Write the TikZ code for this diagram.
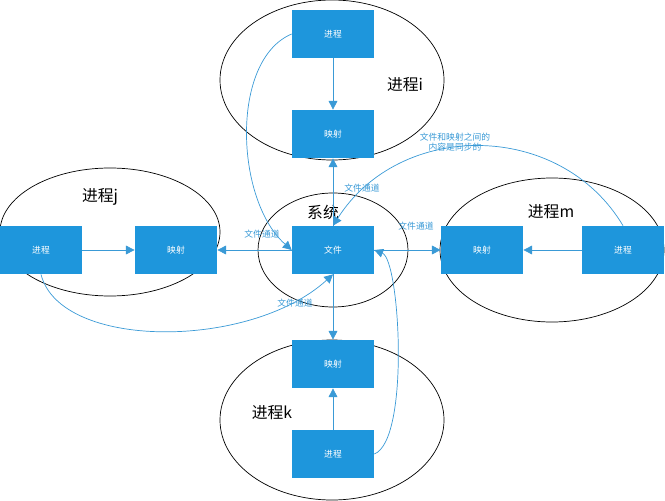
\documentclass[tikz,border=0pt]{standalone}
\usepackage{fontspec}
\setmainfont{Noto Sans CJK SC}
\usetikzlibrary{arrows.meta}
\definecolor{boxblue}{HTML}{1E96DC}
\definecolor{lineblue}{HTML}{3A9AD6}
\tikzset{
	procbox/.style={fill=boxblue, minimum width=1.64cm, minimum height=0.96cm, inner sep=0pt, text=white, font=\fontsize{5}{6}\selectfont},
	flow/.style={draw=lineblue, -{Triangle[length=5pt,width=5pt]}},
	chan/.style={text=lineblue, font=\fontsize{5}{6}\selectfont, inner sep=1pt},
	zone/.style={draw=black, thin},
	title/.style={font=\fontsize{9}{10}\selectfont}
}
\begin{document}
\begin{tikzpicture}[x=0.02cm,y=-0.02cm]
		\useasboundingbox (0,0) rectangle (665,500);
		
		%zones
		\draw[zone] (332,80) ellipse [x radius=112, y radius=80];
		\draw[zone] (110,232) ellipse [x radius=110, y radius=64];
		\draw[zone] (333,250) ellipse [x radius=75, y radius=57];
		\draw[zone] (552,250) ellipse [x radius=112, y radius=72];
		\draw[zone] (332,420) ellipse [x radius=112, y radius=80];
		
		\node[title] (ti) at (405,85) {进程i};
		\node[title] (tj) at (100,197) {进程j};
		\node[title] (ts) at (323,212) {系统};
		\node[title] (tm) at (551,212) {进程m};
		\node[title] (tk) at (272,413) {进程k};
		
		%blocks
		\node[procbox] (file) at (333,250) {文件};
		\node[procbox] (pi) at (333,34) {进程};
		\node[procbox] (mi) at (333,134) {映射};
		\node[procbox] (pj) at (41,250) {进程};
		\node[procbox] (mj) at (176,250) {映射};
		\node[procbox] (mm) at (482,250) {映射};
		\node[procbox] (pm) at (623,250) {进程};
		\node[procbox] (mk) at (333,364) {映射};
		\node[procbox] (pk) at (333,454) {进程};
		
		%straight flows
		\draw[flow] (pi) -- (mi);
		\draw[flow] (file) -- (mi);
		\draw[flow] (file) -- (mj);
		\draw[flow] (file) -- (mm);
		\draw[flow] (file) -- (mk);
		\draw[flow] (pj) -- (mj);
		\draw[flow] (pm) -- (mm);
		\draw[flow] (pk) -- (mk);
		
		%curved flows
		\draw[flow] (pi.west) .. controls (230,60) and (235,200) .. (file.west);
		\draw[flow] (pj.south) .. controls (60,350) and (250,350) .. (file.south);
		\draw[flow] (pk.east) .. controls (410,440) and (400,260) .. (file.east);
		\draw[flow] (pm.north) .. controls (560,120) and (400,120) .. (file.north);
		
		%labels
		\node[chan] (c1) at (262,234) {文件通道};
		\node[chan] (c2) at (416,226) {文件通道};
		\node[chan] (c3) at (295,303) {文件通道};
		\node[chan] (c4) at (362,188) {文件通道};
		\node[chan, align=center] (c5) at (455,142) {文件和映射之间的\\内容是同步的};
\end{tikzpicture}
\end{document}
